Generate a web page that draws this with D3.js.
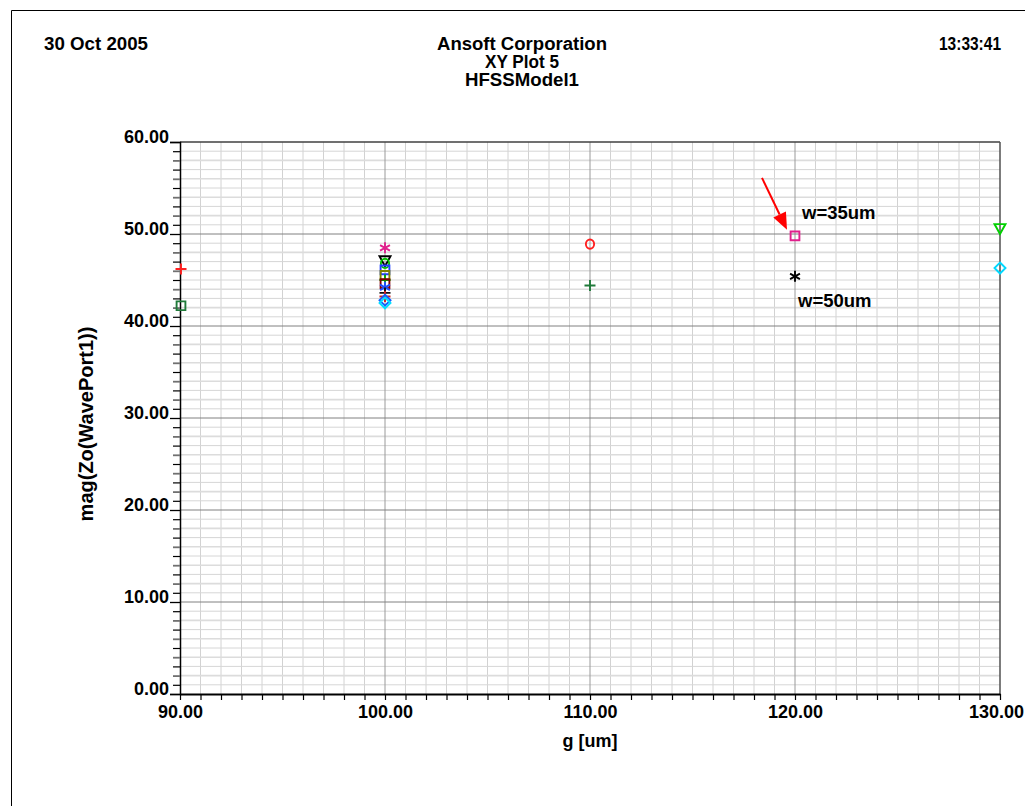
<!DOCTYPE html>
<html>
<head>
<meta charset="utf-8">
<script src="https://cdn.jsdelivr.net/npm/d3@7"></script>
<style>
  html, body { margin: 0; padding: 0; background: #fff; }
  svg { display: block; }
  text { font-family: "Liberation Sans", Arial, sans-serif; font-weight: bold; fill: #000; }
</style>
</head>
<body>
<svg id="chart" width="1025" height="806"></svg>
<script>
// Sweep results: characteristic impedance vs gap g
const gValues  = [90, 90, 100, 100, 100, 100, 100, 100, 100, 100, 100, 100, 100, 100, 110, 110, 120, 120, 130, 130];
const zoValues = [46.2, 42.2, 48.5, 47.1, 46.8, 46.1, 45.5, 45.0, 44.6, 44.2, 43.6, 43.2, 42.8, 42.5, 48.9, 44.4, 49.8, 45.4, 50.6, 46.3];

// Marker style per trace
const traceColors = ["#ff2020", "#207a3a", "#e0208c", "#000000", "#00c000", "#2040ff", "#808000", "#00a000", "#800000", "#2050ff", "#101010", "#d02020", "#1060ff", "#00e0ff", "#ff2020", "#207a3a", "#e0208c", "#000000", "#00d000", "#00d8ff"];
const traceShapes = ["plus", "square", "star", "triDown", "circle", "square", "square", "plus", "square", "star", "plus", "plus", "diamond", "diamond", "circle", "plus", "square", "star", "triDown", "diamond"];

const xTicks = [90, 100, 110, 120, 130];
const yTicks = [0, 10, 20, 30, 40, 50, 60];

const headerLeft = "30 Oct 2005";
const headerRight = "13:33:41";
const titleLines = ["Ansoft Corporation", "XY Plot 5", "HFSSModel1"];
const xLabel = "g [um]";
const yLabel = "mag(Zo(WavePort1))";
const notes = [
  { text: "w=35um", g: 120, zo: 49.8, dx: 7, dy: -23 },
  { text: "w=50um", g: 120, zo: 45.4, dx: 3, dy: 25 }
];

const svg = d3.select("#chart");

const x = d3.scaleLinear().domain([90, 130]).range([180, 1000]);
const y = d3.scaleLinear().domain([0, 60]).range([694, 142]);

// page frame
svg.append("path")
  .attr("d", "M11.5,1030 V10.5 H1040")
  .attr("fill", "none").attr("stroke", "#000").attr("stroke-width", 1);

// header (narrow print font)
function narrow(sel, w) {
  return sel.attr("textLength", w).attr("lengthAdjust", "spacingAndGlyphs");
}
narrow(svg.append("text").attr("x", 44).attr("y", 50).attr("font-size", 17.5).text(headerLeft), 104);
narrow(svg.append("text").attr("x", 939).attr("y", 50).attr("font-size", 17.5).text(headerRight), 62);
const titleWidths = [170, 74, 114];
titleLines.forEach((t, i) => {
  narrow(svg.append("text").attr("x", 522 - titleWidths[i] / 2).attr("y", 50 + i * 18).attr("font-size", 17.5).text(t), titleWidths[i]);
});

// grid
const g = svg.append("g");
const minorX = d3.range(91, 130, 1).filter(v => v % 10 !== 0);
const minorY = d3.range(1, 60, 1).filter(v => v % 10 !== 0);

g.selectAll(".mx").data(minorX).join("line")
  .attr("x1", d => x(d)).attr("x2", d => x(d))
  .attr("y1", y(60)).attr("y2", y(0))
  .attr("stroke", "#d2d2d2").attr("stroke-width", 1);
g.selectAll(".my").data(minorY).join("line")
  .attr("x1", x(90)).attr("x2", x(130))
  .attr("y1", d => y(d)).attr("y2", d => y(d))
  .attr("stroke", d => d % 2 ? "#d6d6d6" : "#dcdcdc").attr("stroke-width", d => d % 2 ? 1 : 1.6);
g.selectAll(".Mx").data(xTicks.slice(1, -1)).join("line")
  .attr("x1", d => x(d)).attr("x2", d => x(d))
  .attr("y1", y(60)).attr("y2", y(0))
  .attr("stroke", "#9a9a9a").attr("stroke-width", 1);
g.selectAll(".My").data(yTicks.slice(1, -1)).join("line")
  .attr("x1", x(90)).attr("x2", x(130))
  .attr("y1", d => y(d)).attr("y2", d => y(d))
  .attr("stroke", "#808080").attr("stroke-width", 1);

// plot border top / right
g.append("line").attr("x1", x(90)).attr("x2", x(130)).attr("y1", y(60)).attr("y2", y(60))
  .attr("stroke", "#404040").attr("stroke-width", 1.3);
g.append("line").attr("x1", x(130)).attr("x2", x(130)).attr("y1", y(60)).attr("y2", y(0))
  .attr("stroke", "#505050").attr("stroke-width", 1.5);

// y axis
const yAxis = d3.axisLeft(y).tickValues(yTicks).tickSize(10).tickFormat(d3.format(".2f"));
const yg = svg.append("g").attr("transform", `translate(${x(90)},0)`).call(yAxis);
yg.select(".domain").attr("stroke", "#000").attr("stroke-width", 1.5);
yg.selectAll(".tick line").attr("stroke", "#000").attr("stroke-width", 1.3);
yg.selectAll(".tick text").attr("font-size", 18).attr("font-family", "Liberation Sans, Arial, sans-serif")
  .attr("font-weight", "bold").attr("fill", "#000").attr("x", -11).attr("dy", "0.05em");
const yMinor = d3.axisLeft(y).tickValues(minorY).tickSize(7).tickFormat("");
const ymg = svg.append("g").attr("transform", `translate(${x(90)},0)`).call(yMinor);
ymg.select(".domain").remove();
ymg.selectAll(".tick line").attr("stroke", d => d % 2 ? "#000" : "#707070").attr("stroke-width", d => d % 2 ? 1.2 : 1.8);

// x axis
const xAxis = d3.axisBottom(x).tickValues(xTicks).tickSize(0).tickPadding(11).tickFormat(d3.format(".2f"));
const xg = svg.append("g").attr("transform", `translate(0,${y(0)})`).call(xAxis);
xg.select(".domain").attr("stroke", "#000").attr("stroke-width", 2.2);
xg.selectAll(".tick text").attr("font-size", 18).attr("font-family", "Liberation Sans, Arial, sans-serif")
  .attr("font-weight", "bold").attr("fill", "#000")
  .attr("dx", d => d === 130 ? -4 : 0);
const xMinor = d3.axisBottom(x).tickValues(d3.range(90, 131, 1)).tickSize(6).tickFormat("");
const xmg = svg.append("g").attr("transform", `translate(0,${y(0)})`).call(xMinor);
xmg.select(".domain").remove();
xmg.selectAll(".tick line").attr("stroke", "#000").attr("stroke-width", 1.2);

// axis titles
svg.append("text").attr("x", 590).attr("y", 747).attr("font-size", 18)
  .attr("text-anchor", "middle").text(xLabel);
svg.append("text").attr("transform", `translate(93,${(y(0) + y(60)) / 2 + 6}) rotate(-90)`)
  .attr("font-size", 20).attr("text-anchor", "middle").text(yLabel);

// markers
function markerPath(shape, r) {
  switch (shape) {
    case "plus": return `M${-r},0H${r}M0,${-r}V${r}`;
    case "square": return `M${-r*0.8},${-r*0.8}H${r*0.8}V${r*0.8}H${-r*0.8}Z`;
    case "circle": return `M${r*0.75},0A${r*0.75},${r*0.85} 0 1 1 ${-r*0.75},0A${r*0.75},${r*0.85} 0 1 1 ${r*0.75},0Z`;
    case "triDown": return `M${-r},${-r*0.8}H${r}L0,${r}Z`;
    case "diamond": return `M0,${-r}L${r},0L0,${r}L${-r},0Z`;
    case "star": return `M0,${-r}V${r}M${-r*0.9},${-r*0.5}L${r*0.9},${r*0.5}M${-r*0.9},${r*0.5}L${r*0.9},${-r*0.5}`;
  }
}
const pts = gValues.map((gv, i) => ({ g: gv, zo: zoValues[i], color: traceColors[i], shape: traceShapes[i] }));
svg.append("g").selectAll("path").data(pts).join("path")
  .attr("transform", d => `translate(${x(d.g) + (d.g === 90 ? 1 : 0)},${y(d.zo)})`)
  .attr("d", d => markerPath(d.shape, 5.5))
  .attr("fill", "none").attr("stroke", d => d.color).attr("stroke-width", 1.9);

// annotations
notes.forEach(n => {
  svg.append("text").attr("x", x(n.g) + n.dx).attr("y", y(n.zo) + n.dy + 6)
    .attr("font-size", 18.5).text(n.text);
});
// red arrow pointing at the w=35um point
const tip = [x(120) - 8, y(49.8) - 6];
const tail = [tip[0] - 25, tip[1] - 52];
const ang = Math.atan2(tip[1] - tail[1], tip[0] - tail[0]);
const L = 17, W = 7;
const base = [tip[0] - L * Math.cos(ang), tip[1] - L * Math.sin(ang)];
svg.append("line").attr("x1", tail[0]).attr("y1", tail[1]).attr("x2", base[0]).attr("y2", base[1])
  .attr("stroke", "#ff0000").attr("stroke-width", 2);
svg.append("path")
  .attr("d", `M${tip[0]},${tip[1]}L${base[0] + W * Math.sin(ang)},${base[1] - W * Math.cos(ang)}L${base[0] - W * Math.sin(ang)},${base[1] + W * Math.cos(ang)}Z`)
  .attr("fill", "#ff0000");
</script>
</body>
</html>
